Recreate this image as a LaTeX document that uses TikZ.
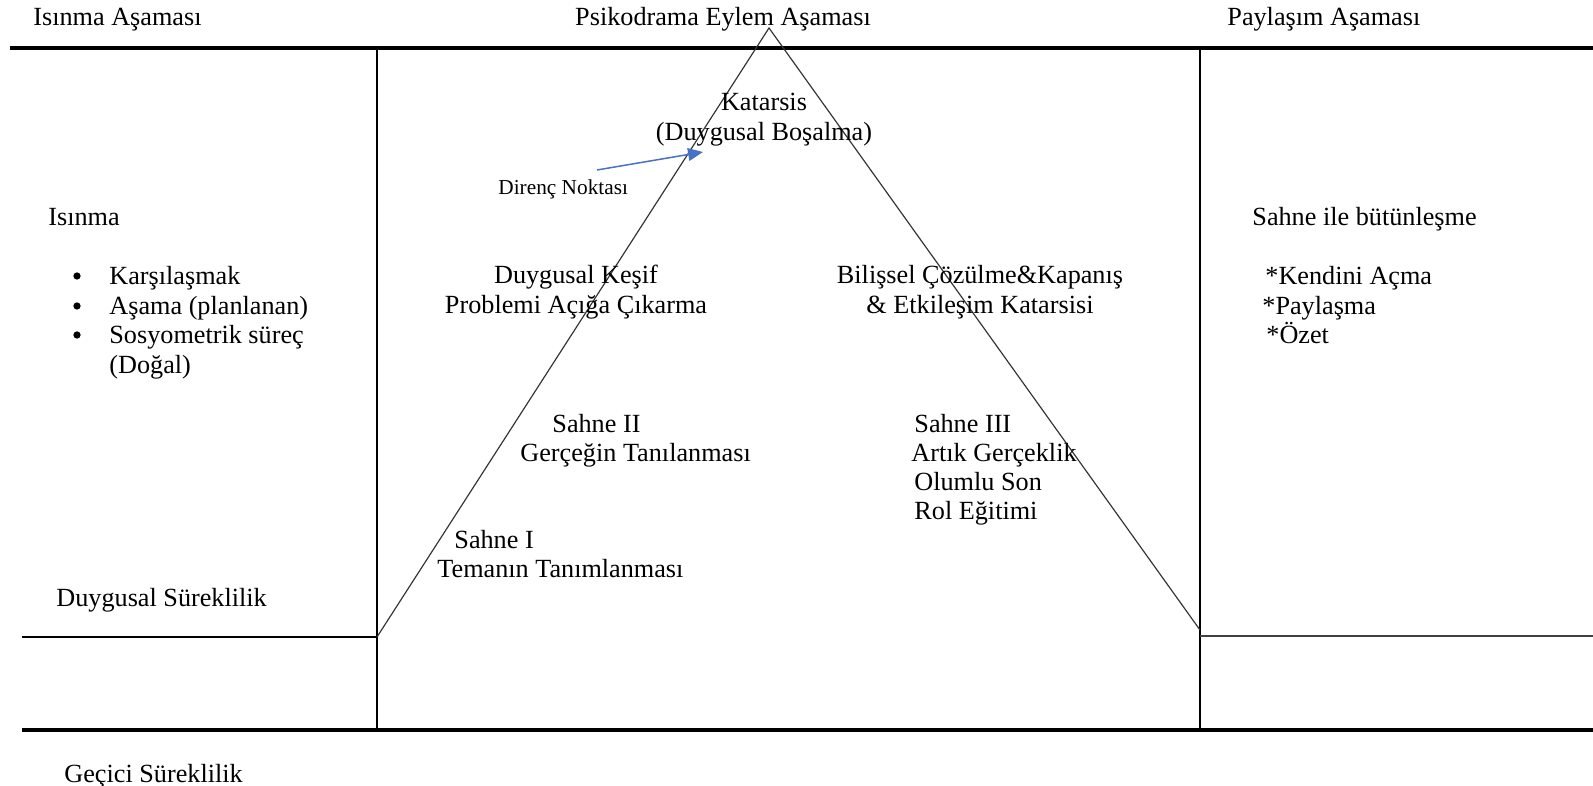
\documentclass[tikz,border=0pt]{standalone}
\usepackage{fontspec}
\setmainfont{Liberation Serif}
\usetikzlibrary{arrows.meta}
\definecolor{wordblue}{RGB}{68,114,196}

\begin{document}
\begin{tikzpicture}[x=0.0165cm, y=-0.0165cm, font=\fontsize{12.3}{14.2}\selectfont,
        txt/.style={inner sep=0pt, anchor=base west},
        ctr/.style={inner sep=0pt, align=center},
        dot/.style={circle, fill=black, inner sep=0pt, minimum size=3.4pt}]
        \useasboundingbox (0,0) rectangle (1593,786);
        \coordinate (apex) at (769,28);
        \coordinate (baseL) at (377,637);
        \coordinate (baseR) at (1200,630);
        \coordinate (dirTail) at (597,170);
        \coordinate (dirHead) at (703,152);
        \draw[black, line width=1.8pt]
            (10,48) -- (1593,48);
        \draw[black, line width=1.8pt]
            (22,730) -- (1593,730);
        \draw[black, line width=1.3pt]
            (377,48) -- (377,730);
        \draw[black, line width=1.3pt]
            (1200,48) -- (1200,730);
        \draw[black, line width=0.9pt]
            (22,637) -- (377,637);
        \draw[black!75, line width=0.9pt]
            (1200,636) -- (1593,636);
        \draw[black!80, line width=0.55pt]
            (baseL) -- (apex) -- (baseR);
        \node[txt] (isinmaAsama) at (33,26) {Isınma Aşaması};
        \node[txt, anchor=base] (eylemAsama) at (723,26) {Psikodrama Eylem Aşaması};
        \node[txt] (paylasimAsama) at (1227,26) {Paylaşım Aşaması};
        \node[ctr] (katarsis) at (764,120) {Katarsis\\(Duygusal Boşalma)};
        \node[txt, font=\fontsize{10}{12}\selectfont] (direnc) at (498,195) {Direnç Noktası};
        \draw[-{Triangle[length=7pt, width=6pt]}, wordblue, line width=0.7pt]
            (dirTail) -- (dirHead);
        \node[txt] (isinma) at (48,226) {Isınma};
        \node[dot] (b1) at (77,276) {};
        \node[dot] (b2) at (77,306) {};
        \node[dot] (b3) at (77,335) {};
        \node[txt] (karsilasma) at (109,285) {Karşılaşmak};
        \node[txt] (asama) at (109,315) {Aşama (planlanan)};
        \node[txt] (sosyo) at (109,344) {Sosyometrik süreç};
        \node[txt] (dogal) at (109,374) {(Doğal)};
        \node[ctr] (kesif) at (576,292) {Duygusal Keşif\\Problemi Açığa Çıkarma};
        \node[ctr] (bilissel) at (980,292) {Bilişsel Çözülme\&Kapanış\\\& Etkileşim Katarsisi};
        \node[txt] (sahne2) at (552,433) {Sahne II};
        \node[txt] (gercegin) at (520,462) {Gerçeğin Tanılanması};
        \node[txt] (sahne3) at (914,433) {Sahne III};
        \node[txt] (artik) at (911,462) {Artık Gerçeklik};
        \node[txt] (olumlu) at (914,491) {Olumlu Son};
        \node[txt] (rol) at (914,520) {Rol Eğitimi};
        \node[txt] (sahne1) at (454,549) {Sahne I};
        \node[txt] (temanin) at (437,578) {Temanın Tanımlanması};
        \node[txt] (duygusal) at (56,607) {Duygusal Süreklilik};
        \node[txt] (gecici) at (64,783) {Geçici Süreklilik};
        \node[txt] (butunlesme) at (1252,226) {Sahne ile bütünleşme};
        \node[txt] (kendini) at (1265,285) {*Kendini Açma};
        \node[txt] (paylasma) at (1262,315) {*Paylaşma};
        \node[txt] (ozet) at (1266,344) {*Özet};
    \end{tikzpicture}
\end{document}
